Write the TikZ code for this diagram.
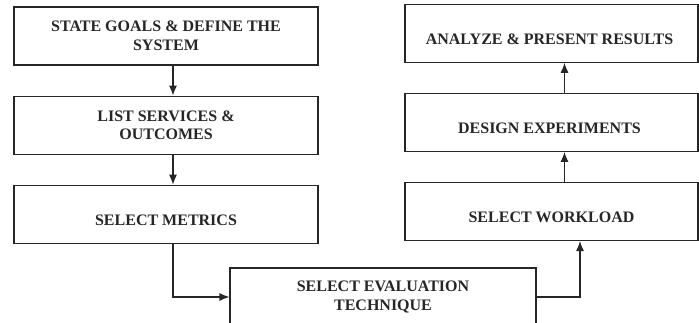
\documentclass[tikz,border=0pt]{standalone}
\usepackage{fontspec}
\setmainfont{Liberation Serif}
\usepackage{xcolor}
\usetikzlibrary{shapes,arrows,arrows.meta,positioning}

\begin{document}
\begin{tikzpicture}[x=1pt, y=1pt, node distance = 30pt, auto]

    \tikzstyle{block} = [
        rectangle, 
        draw=black!85, 
        line width=1.1pt,
        %fill=blue!20, 
        align=center, 
        minimum width=304pt,
        minimum height=58pt,
        inner sep=0pt,
        text=black!85,
        font=\bfseries\fontsize{16}{18.5}\selectfont,
    ]
    \tikzstyle{oneline} = [
        text height=23pt,
        text depth=0pt,
    ]
    \tikzstyle{line} = [
        draw,
        draw=black!85,
        line width=1.1pt,
        -{Latex[length=10pt,width=8pt]},
    ]

    \useasboundingbox (0,0) rectangle (699,323);
    \clip (0,0) rectangle (699,323);

    \node [block] at (166,287)          (sta) {STATE GOALS \& DEFINE THE\\SYSTEM};
    \node [block, below=of sta]         (lis) {LIST SERVICES \&\\OUTCOMES};
    \node [block, oneline, below=of lis] (met) {SELECT METRICS};

    \node [block, minimum width=306pt] at (383,26) (eva) {SELECT EVALUATION\\TECHNIQUE};

    \node [block, oneline, minimum width=293pt] at (551.5,111.5) (wor) {SELECT WORKLOAD};
    \node [block, oneline, minimum width=293pt, 
        above=of wor
    ](des) { 
        DESIGN EXPERIMENTS
    };
    \node [block, oneline, minimum width=293pt, 
        above=of des
    ](ana) { 
        ANALYZE \& PRESENT RESULTS
    };

    \path [line] ([xshift=7pt]sta.south) -- ([xshift=7pt]lis.north);
    \path [line] ([xshift=7pt]lis.south) -- ([xshift=7pt]met.north);
    \path [line] ([xshift=7pt]met.south) |- (eva.west);
    \path [line] (eva.east) -| ([xshift=28.5pt]wor.south);
    \path [line] ([xshift=13pt]wor.north) -- ([xshift=13pt]des.south);
    \path [line] ([xshift=13pt]des.north) -- ([xshift=13pt]ana.south);

\end{tikzpicture}
\end{document}
